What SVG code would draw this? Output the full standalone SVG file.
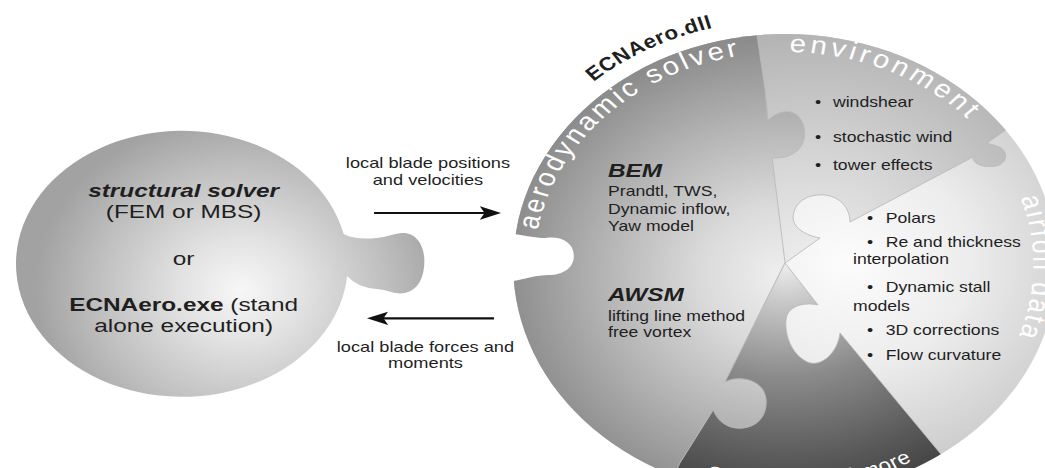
<svg xmlns="http://www.w3.org/2000/svg" width="1045" height="468" viewBox="0 0 1045 468">
<style>
.t{font-family:"Liberation Sans",Arial,sans-serif;fill:#1f1f1f}
.big{font-size:18.5px}
.sm{font-size:14px}
.ar{font-size:14px}
.hd{font-size:18px;font-weight:bold;font-style:italic}
.lbl{font-family:"Liberation Sans",Arial,sans-serif;font-size:25px;fill:#ffffff}
.edge{stroke:#b9b9b9;stroke-width:0.8;stroke-linejoin:round}
.arrow{stroke:#111111;stroke-width:2.2;fill:none}
</style>
<defs>
<radialGradient id="gBulb" gradientUnits="userSpaceOnUse" cx="205" cy="290" r="175">
<stop offset="0" stop-color="#f7f7f7"/><stop offset="0.3" stop-color="#e2e2e2"/><stop offset="0.7" stop-color="#bfbfbf"/><stop offset="1" stop-color="#a2a2a2"/>
</radialGradient>
<radialGradient id="gAir" gradientUnits="userSpaceOnUse" cx="720" cy="262" r="230">
<stop offset="0" stop-color="#fcfcfc"/><stop offset="0.45" stop-color="#ededed"/><stop offset="1" stop-color="#c6c6c6"/>
</radialGradient>
<radialGradient id="gEnv" gradientUnits="userSpaceOnUse" cx="690" cy="262" r="235">
<stop offset="0" stop-color="#eeeeee"/><stop offset="0.5" stop-color="#d2d2d2"/><stop offset="1" stop-color="#b2b2b2"/>
</radialGradient>
<radialGradient id="gAero" gradientUnits="userSpaceOnUse" cx="665" cy="275" r="235">
<stop offset="0" stop-color="#efefef"/><stop offset="0.3" stop-color="#dadada"/><stop offset="0.65" stop-color="#b4b4b4"/><stop offset="1" stop-color="#8c8c8c"/>
</radialGradient>
<radialGradient id="gStr" gradientUnits="userSpaceOnUse" cx="667" cy="263" r="231">
<stop offset="0" stop-color="#eeeeee"/><stop offset="0.18" stop-color="#c6c6c6"/><stop offset="0.5" stop-color="#8a8a8a"/><stop offset="0.85" stop-color="#5a5a5a"/><stop offset="1" stop-color="#474747"/>
</radialGradient>
<clipPath id="disc"><circle cx="667" cy="265" r="231"/></clipPath>
<marker id="ah" markerUnits="userSpaceOnUse" markerWidth="20" markerHeight="16" refX="7.3" refY="6.7" orient="auto">
<path d="M0,0 L18,6.7 L0,13.4 L4,6.7 Z" fill="#111111"/>
</marker>
<path id="pAero" d="M456.9,230.2 A213 213 0 0 1 722.1,59.3"/>
<path id="pEnv" d="M670.7,52 A213 213 0 0 1 867.2,192.2"/>
<path id="pAir" d="M865.3,192.8 A211 211 0 0 1 828.6,400.6"/>
<path id="pBot" d="M583.3,472.2 A224 224 0 0 0 811,436.6"/>
<path id="pDll" d="M504.3,81.8 A245 245 0 0 1 688.4,20.9"/>
</defs>
<rect width="1045" height="468" fill="#ffffff"/>
<g transform="scale(1.177,1)">
<g id="structural-solver">
<path d="M292,234 C300,239 310,239 320,238 C328,237 334,234 341,233 C353,232 360,244 360.5,259 C361,276 356,290 344,293 C336,295 330,290 320,289 C310,288 301,284 295,276 A141 133 0 1 1 292,234 Z" fill="url(#gBulb)"/>
<g transform="matrix(1.12,0,0,1,-18.72,0)">
<text class="t big" x="156" y="196.7" text-anchor="middle" font-weight="bold" font-style="italic">structural solver</text>
<text class="t big" x="156" y="218.3" text-anchor="middle">(FEM or MBS)</text>
<text class="t big" x="156" y="265" text-anchor="middle">or</text>
<text class="t big" x="156" y="310.7" text-anchor="middle"><tspan font-weight="bold">ECNAero.exe</tspan> (stand</text>
<text class="t big" x="156" y="332.3" text-anchor="middle">alone execution)</text>
</g>
</g>
<g id="ecnaero-dll">
<g id="piece-airfoil-data">
<circle cx="667" cy="265" r="231" fill="url(#gAir)"/>
</g>
<g id="piece-environment">
<path clip-path="url(#disc)" class="edge" fill="url(#gEnv)" d="M667,263 L696.7,238 C686,236 672,228 674,215 C676,200 688,194 700,195 C712,196 722,206 722.2,222 L826.7,157 C826,164 836,168 846,166 C856,164 858,150 847,146 C842,144 840,144 838.6,143 L880,109 L880,-10 L300,-10 L300,263 Z"/>
</g>
<g id="piece-aerodynamic-solver">
<path clip-path="url(#disc)" class="edge" fill="url(#gAero)" d="M667,263 L656,158 C664,158 672,157 678,150 C686,141 685,124 678,116 C671,108 660,112 652.5,120 L650,90 L643,34 L641,-10 L300,-10 L300,520 L571,520 L571,480 L577.7,463 L606,410 C612,428 628,432 640,425 C652,418 654,398 647,388 C640,378 625,376 616,382 L667,263 Z"/>
<path fill="#ffffff" d="M415,233 L437,234 C448,236 456,238 464,238 C476,236 487,242 487.5,255 C488,268 478,275 466,275 C456,275 446,279 436,281 L415,282 Z"/>
</g>
<g id="piece-structures">
<path clip-path="url(#disc)" class="edge" fill="url(#gStr)" d="M667,263 L695,305 C685,302 670,305 668,318 C666,335 673,355 686,362 C698,368 712,352 713.7,333 L798.6,453 L811,475 L811,520 L571,520 L571,480 L577.7,463 L606,410 C612,428 628,432 640,425 C652,418 654,398 647,388 C640,378 625,376 616,382 L667,263 Z"/>
</g>
<text class="lbl" style="letter-spacing:2.5px"><textPath href="#pAero">aerodynamic solver</textPath></text>
<text class="lbl" style="letter-spacing:3.2px"><textPath href="#pEnv">environment</textPath></text>
<text class="lbl" style="letter-spacing:2.3px"><textPath href="#pAir" startOffset="5">airfoil data</textPath></text>
<text class="lbl" style="font-size:19px;letter-spacing:0.5px"><textPath href="#pBot" startOffset="17">Structures and more</textPath></text>
<text class="t" font-weight="bold" font-size="19" letter-spacing="0.5"><textPath href="#pDll">ECNAero.dll</textPath></text>
<g transform="matrix(1.15,0,0,1,-77.49,0)">
<text class="t hd" x="516.6" y="177">BEM</text>
<text class="t hd" x="516.6" y="301.5">AWSM</text>
</g>
<g transform="matrix(1.07,0,0,1,-36.16,0)">
<text class="t sm" x="516.6" y="196.5">Prandtl, TWS,</text>
<text class="t sm" x="516.6" y="214">Dynamic inflow,</text>
<text class="t sm" x="516.6" y="231">Yaw model</text>
<text class="t sm" x="516.6" y="321.5">lifting line method</text>
<text class="t sm" x="516.6" y="337">free vortex</text>
</g>
<g transform="matrix(1.07,0,0,1,-48.47,0)">
<text class="t sm" x="692.4" y="107">•</text>
<text class="t sm" x="692.4" y="141.7">•</text>
<text class="t sm" x="692.4" y="170">•</text>
</g>
<g transform="matrix(1.07,0,0,1,-49.54,0)">
<text class="t sm" x="707.7" y="107">windshear</text>
<text class="t sm" x="707.7" y="141.7">stochastic wind</text>
<text class="t sm" x="707.7" y="170">tower effects</text>
</g>
<g transform="matrix(1.07,0,0,1,-51.56,0)">
<text class="t sm" x="736.6" y="223.3">•</text>
<text class="t sm" x="736.6" y="246.7">•</text>
<text class="t sm" x="736.6" y="292">•</text>
<text class="t sm" x="736.6" y="335">•</text>
<text class="t sm" x="736.6" y="360">•</text>
</g>
<g transform="matrix(1.07,0,0,1,-52.68,0)">
<text class="t sm" x="752.5" y="223.3">Polars</text>
<text class="t sm" x="752.5" y="246.7">Re and thickness</text>
<text class="t sm" x="752.5" y="292">Dynamic stall</text>
<text class="t sm" x="752.5" y="335">3D corrections</text>
<text class="t sm" x="752.5" y="360">Flow curvature</text>
</g>
<g transform="matrix(1.07,0,0,1,-50.73,0)">
<text class="t sm" x="724.7" y="264">interpolation</text>
<text class="t sm" x="724.7" y="311.5">models</text>
</g>
</g>
<g id="connectors">
<line class="arrow" x1="317.8" y1="213" x2="415" y2="213" marker-end="url(#ah)"/>
<line class="arrow" x1="419.7" y1="318.3" x2="322.5" y2="318.3" marker-end="url(#ah)"/>
<text class="t ar" x="363.6" y="168.3" text-anchor="middle" transform="matrix(1.107,0,0,1,-38.91,0)">local blade positions</text>
<text class="t ar" x="363.6" y="185" text-anchor="middle" transform="matrix(1.107,0,0,1,-38.91,0)">and velocities</text>
<text class="t ar" x="361.5" y="351.7" text-anchor="middle" transform="matrix(1.107,0,0,1,-38.68,0)">local blade forces and</text>
<text class="t ar" x="361.5" y="368.3" text-anchor="middle" transform="matrix(1.107,0,0,1,-38.68,0)">moments</text>
</g>
</g>
</svg>
